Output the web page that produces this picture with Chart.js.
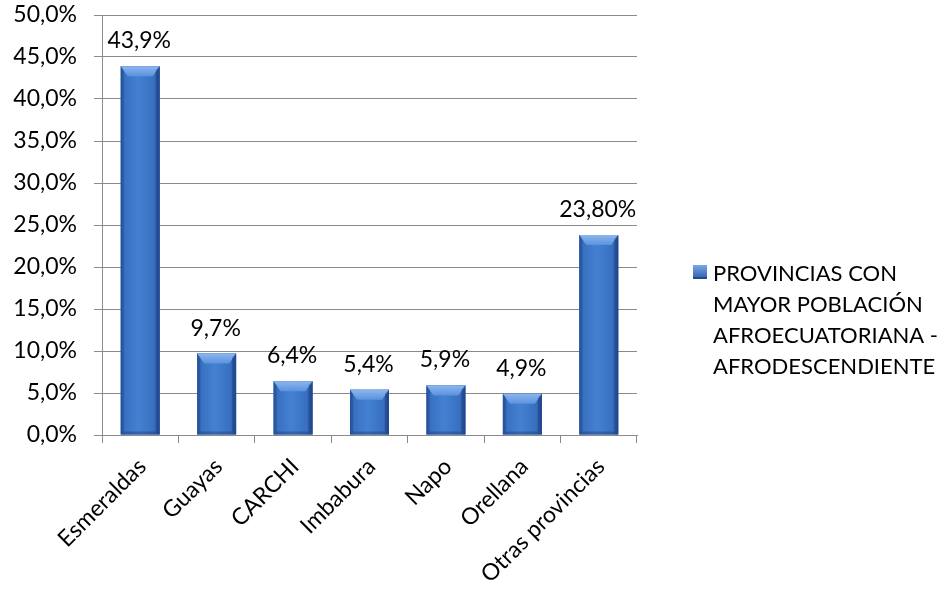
<!DOCTYPE html>
<html>
<head>
<meta charset="utf-8">
<script src="https://cdn.jsdelivr.net/npm/chart.js@4.4.0/dist/chart.umd.min.js"></script>
<style>
  html, body { margin: 0; padding: 0; background: #ffffff; }
  #wrap { width: 951px; height: 592px; }
</style>
</head>
<body>
<div id="wrap"><canvas id="c" width="951" height="592"></canvas></div>
<script>
const categories = ['Esmeraldas', 'Guayas', 'CARCHI', 'Imbabura', 'Napo', 'Orellana', 'Otras provincias'];
const values = [43.9, 9.7, 6.4, 5.4, 5.9, 4.9, 23.8];
const valueLabels = ['43,9%', '9,7%', '6,4%', '5,4%', '5,9%', '4,9%', '23,80%'];
const seriesName = 'PROVINCIAS CON MAYOR POBLACIÓN AFROECUATORIANA - AFRODESCENDIENTE';
const legendLines = ['PROVINCIAS CON', 'MAYOR POBLACIÓN', 'AFROECUATORIANA -', 'AFRODESCENDIENTE'];
const yMin = 0, yMax = 50, yStep = 5;

const FONT = 'Lato, "Open Sans", sans-serif';
const FS = 23;
const GRID = '#8a8a8a';

function fmtPct(v) { return v.toFixed(1).replace('.', ',') + '%'; }

const barStyle = {
  id: 'barStyle',
  afterDatasetsDraw(chart) {
    const ctx = chart.ctx;
    const meta = chart.getDatasetMeta(0);
    meta.data.forEach((bar, i) => {
      const w = bar.width, left = bar.x - w / 2, right = bar.x + w / 2;
      const top = bar.y, bottom = bar.base;
      ctx.save();
      const g = ctx.createLinearGradient(left, 0, right, 0);
      g.addColorStop(0, '#2b5ba5');
      g.addColorStop(0.12, '#3a71c2');
      g.addColorStop(0.45, '#4480d2');
      g.addColorStop(0.85, '#3870c0');
      g.addColorStop(1, '#27509a');
      ctx.fillStyle = g;
      ctx.fillRect(left, top, w, bottom - top);
      const bev = Math.min(10, (bottom - top) / 3);
      const inset = 7;
      const gt = ctx.createLinearGradient(0, top, 0, top + bev);
      gt.addColorStop(0, '#8db6ee');
      gt.addColorStop(1, '#5a92de');
      ctx.fillStyle = gt;
      ctx.beginPath();
      ctx.moveTo(left, top);
      ctx.lineTo(right, top);
      ctx.lineTo(right - inset, top + bev);
      ctx.lineTo(left + inset, top + bev);
      ctx.closePath();
      ctx.fill();
      ctx.fillStyle = 'rgba(20,50,110,0.35)';
      ctx.beginPath();
      ctx.moveTo(right, top);
      ctx.lineTo(right, bottom);
      ctx.lineTo(right - 4, bottom - 3);
      ctx.lineTo(right - 4, top + 4);
      ctx.closePath();
      ctx.fill();
      ctx.fillStyle = 'rgba(20,50,110,0.25)';
      ctx.beginPath();
      ctx.moveTo(left, top);
      ctx.lineTo(left, bottom);
      ctx.lineTo(left + 3, bottom - 3);
      ctx.lineTo(left + 3, top + 4);
      ctx.closePath();
      ctx.fill();
      ctx.fillStyle = 'rgba(20,50,110,0.35)';
      ctx.beginPath();
      ctx.moveTo(left, bottom);
      ctx.lineTo(right, bottom);
      ctx.lineTo(right - 4, bottom - 3);
      ctx.lineTo(left + 3, bottom - 3);
      ctx.closePath();
      ctx.fill();
      ctx.fillStyle = '#000000';
      ctx.font = FS + 'px ' + FONT;
      ctx.textAlign = 'center';
      ctx.textBaseline = 'alphabetic';
      ctx.fillText(valueLabels[i], bar.x - 1, top - 18);
      ctx.restore();
    });
  }
};

const sideLegend = {
  id: 'sideLegend',
  afterDraw(chart) {
    const ctx = chart.ctx;
    const x0 = chart.chartArea.right + 56;
    const y0 = 265;
    ctx.save();
    const g = ctx.createLinearGradient(0, y0, 0, y0 + 14);
    g.addColorStop(0, '#7aa8e8');
    g.addColorStop(1, '#2d5ea8');
    ctx.fillStyle = g;
    ctx.fillRect(x0, y0, 14, 14);
    ctx.fillStyle = 'rgba(20,50,110,0.5)';
    ctx.fillRect(x0, y0 + 12, 14, 2);
    ctx.fillStyle = '#000000';
    ctx.font = '22px ' + FONT;
    ctx.textAlign = 'left';
    ctx.textBaseline = 'alphabetic';
    legendLines.forEach((t, i) => ctx.fillText(t, x0 + 20, y0 + 16 + i * 31));
    ctx.restore();
  }
};

new Chart(document.getElementById('c'), {
  type: 'bar',
  data: {
    labels: categories,
    datasets: [{
      label: seriesName,
      data: values,
      backgroundColor: '#3a72c2',
      borderWidth: 0,
      barPercentage: 0.51,
      categoryPercentage: 1.0
    }]
  },
  options: {
    responsive: false,
    animation: false,
    devicePixelRatio: 1,
    layout: { padding: { top: 15, right: 314, bottom: 0, left: 0 } },
    plugins: {
      legend: { display: false },
      tooltip: { enabled: false },
      title: { display: false }
    },
    scales: {
      x: {
        offset: true,
        grid: { display: true, drawOnChartArea: false, drawTicks: true, tickLength: 8, color: GRID, offset: true },
        border: { display: true, color: GRID, width: 1 },
        ticks: {
          color: '#000000',
          font: { family: FONT, size: FS },
          minRotation: 45, maxRotation: 45,
          padding: 10,
          labelOffset: 2,
          autoSkip: false
        },
        afterFit(s) { s.height = 157; s.paddingLeft = 0; s.paddingRight = 0; }
      },
      y: {
        min: yMin, max: yMax,
        ticks: {
          stepSize: yStep,
          color: '#000000',
          font: { family: FONT, size: FS },
          padding: 17,
          callback: (v) => fmtPct(v)
        },
        grid: { color: GRID, tickLength: 8, lineWidth: 1 },
        border: { display: true, color: GRID, width: 1 },
        afterFit(s) { s.width = 102; s.paddingTop = 0; s.paddingBottom = 0; }
      }
    }
  },
  plugins: [barStyle, sideLegend]
});
</script>
</body>
</html>
